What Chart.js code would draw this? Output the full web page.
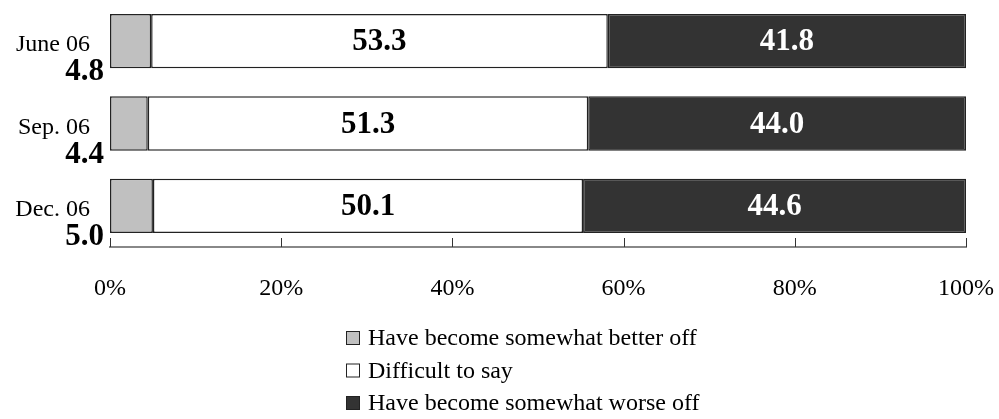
<!DOCTYPE html>
<html>
<head>
  <meta charset="UTF-8">
  <title>Material situation</title>
  <script src="https://cdn.jsdelivr.net/npm/chart.js"></script>
  <style>
    html, body { margin: 0; padding: 0; background: #fff; }
    #wrap { width: 999px; height: 419px; }
  </style>
</head>
<body>
  <div id="wrap"><canvas id="chart"></canvas></div>
  <script>
    // data
    const periods = ["June 06", "Sep. 06", "Dec. 06"];
    const betterOff = [4.8, 4.4, 5.0];
    const difficult = [53.3, 51.3, 50.1];
    const worseOff = [41.8, 44.0, 44.6];
    const seriesNames = ["Have become somewhat better off", "Difficult to say", "Have become somewhat worse off"];
    const seriesColors = ["#c0c0c0", "#ffffff", "#333333"];
    const tickValues = [0, 20, 40, 60, 80, 100];

    const serif = "'Liberation Serif', 'Times New Roman', serif";

    // bars fill to 100% in the source, so each row is scaled by its own total
    const totals = periods.map((p, i) => betterOff[i] + difficult[i] + worseOff[i]);
    const share = arr => arr.map((v, i) => v / totals[i] * 100);
    const raw = [betterOff, difficult, worseOff];

    const datasets = raw.map((arr, k) => ({
      label: seriesNames[k],
      data: share(arr),
      backgroundColor: seriesColors[k],
      borderColor: "#222",
      borderWidth: 1.5,
      borderSkipped: false,
      barPercentage: 0.66,
      categoryPercentage: 1
    }));

    // labels inside the bars, category names and the small "better off" values on the left
    const labelsPlugin = {
      id: "labels",
      afterDatasetsDraw(chart) {
        const ctx = chart.ctx;
        const yScale = chart.scales.y;
        const left = chart.chartArea.left;
        ctx.save();
        periods.forEach((name, i) => {
          const yc = yScale.getPixelForValue(i);
          ctx.fillStyle = "#000";
          ctx.textAlign = "right";
          ctx.textBaseline = "alphabetic";
          ctx.font = "24px " + serif;
          ctx.fillText(name, left - 20, yc + 10);
          ctx.font = "bold 31px " + serif;
          ctx.fillText(betterOff[i].toFixed(1), left - 6, yc + 39);
        });
        [1, 2].forEach(k => {
          chart.getDatasetMeta(k).data.forEach((bar, i) => {
            const xc = (bar.x + bar.base) / 2;
            ctx.font = "bold 31px " + serif;
            ctx.textAlign = "center";
            ctx.textBaseline = "middle";
            ctx.fillStyle = k === 2 ? "#fff" : "#000";
            ctx.fillText(raw[k][i].toFixed(1), xc, bar.y + 1);
          });
        });
        ctx.restore();
      }
    };

    // tick marks point up from the axis line
    const ticksPlugin = {
      id: "innerTicks",
      afterDraw(chart) {
        const ctx = chart.ctx;
        const xScale = chart.scales.x;
        const bottom = chart.chartArea.bottom;
        ctx.save();
        ctx.strokeStyle = "#333";
        ctx.lineWidth = 1;
        tickValues.forEach(v => {
          const x = Math.round(xScale.getPixelForValue(v)) + 0.5;
          ctx.beginPath();
          ctx.moveTo(x, bottom - 9);
          ctx.lineTo(x, bottom);
          ctx.stroke();
        });
        ctx.restore();
      }
    };

    // legend stacked in one left-aligned column
    const legendPlugin = {
      id: "columnLegend",
      afterDraw(chart) {
        const ctx = chart.ctx;
        const x0 = 346;
        const y0 = chart.chartArea.bottom + 91;
        ctx.save();
        ctx.font = "24px " + serif;
        ctx.textBaseline = "middle";
        ctx.textAlign = "left";
        chart.data.datasets.forEach((ds, k) => {
          const y = y0 + k * 32.5;
          ctx.fillStyle = ds.backgroundColor;
          ctx.fillRect(x0, y - 7, 14, 14);
          ctx.strokeStyle = "#222";
          ctx.lineWidth = 1;
          ctx.strokeRect(x0 + 0.5, y - 6.5, 13, 13);
          ctx.fillStyle = "#000";
          ctx.fillText(ds.label, x0 + 22, y + 1);
        });
        ctx.restore();
      }
    };

    new Chart(document.getElementById("chart"), {
      type: "bar",
      data: { labels: periods, datasets: datasets },
      options: {
        indexAxis: "y",
        responsive: true,
        maintainAspectRatio: false,
        animation: false,
        layout: { padding: { left: 110, right: 33, top: -2, bottom: 100 } },
        plugins: {
          legend: { display: false },
          tooltip: { enabled: false }
        },
        scales: {
          x: {
            stacked: true,
            min: 0,
            max: 100,
            afterBuildTicks: axis => { axis.ticks = tickValues.map(v => ({ value: v })); },
            afterFit: axis => {
              axis.height = 72;
              axis.paddingLeft = 0;
              axis.paddingRight = 0;
            },
            grid: { display: false },
            border: { display: true, color: "#888", width: 2 },
            ticks: {
              padding: 19,
              color: "#000",
              font: { family: serif, size: 24 },
              maxRotation: 0,
              callback: v => v + "%"
            }
          },
          y: {
            stacked: true,
            afterFit: axis => {
              axis.width = 0;
              axis.paddingTop = 0;
              axis.paddingBottom = 0;
            },
            grid: { display: false },
            border: { display: false },
            ticks: { display: false }
          }
        }
      },
      plugins: [labelsPlugin, ticksPlugin, legendPlugin]
    });
  </script>
</body>
</html>
